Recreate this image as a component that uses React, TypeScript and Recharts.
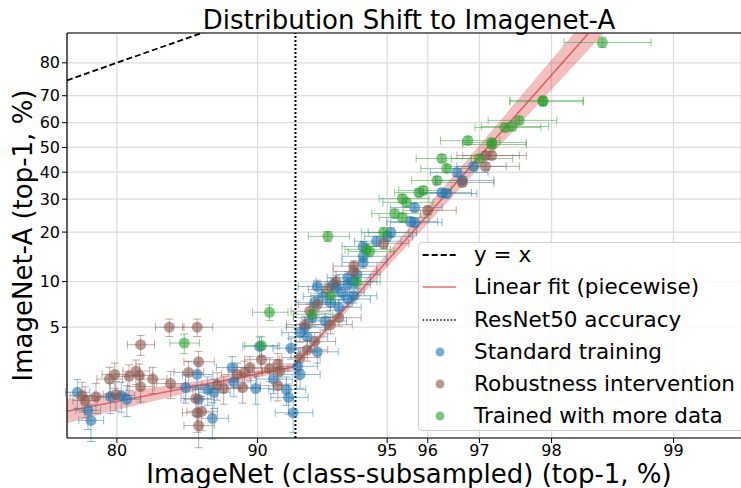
import React from 'react';
import {
  ComposedChart, Scatter, Line, Area, XAxis, YAxis, CartesianGrid, ErrorBar, ReferenceLine, Legend,
} from 'recharts';

// axis ranges (percent, logit scaled)
const X_RANGE = [75, 99.32];
const Y_RANGE = [0.85, 86.7];
const X_TICKS = [80, 90, 95, 96, 97, 98, 99];
const Y_TICKS = [5, 10, 20, 30, 40, 50, 60, 70, 80];

const RESNET50_ACC = 91.8;
const IDENTITY = [75, 90];

// piecewise linear fit (in logit space) and its confidence band
const FIT_X = [75, 91.7, 98.65];
const FIT_Y = [1.31, 2.67, 92.2];
const BAND_X = [75, 80, 86.2, 90, 91.7, 93.5, 95, 97, 98, 98.65];
const BAND_LO = [1.08, 1.34, 1.81, 2.26, 2.54, 5.6, 12.3, 41.9, 72.0, 89.8];
const BAND_HI = [1.59, 1.76, 2.12, 2.53, 2.8, 6.45, 15.0, 50.9, 80.8, 94.1];

// test set sizes used for the 95% intervals
const N_X = 4300;
const N_Y = 4000;

// [ImageNet acc, ImageNet-A acc]
const STANDARD: [number, number][] = [
  [76.1, 1.78], [77.2, 1.33], [77.5, 1.13], [79.4, 1.66], [80.4, 1.69], [80.9, 1.59],
  [85.6, 1.92], [86.4, 2.37], [86.5, 1.59], [87.4, 1.17], [87.1, 1.86], [87.5, 1.78],
  [88.6, 2.65], [88.7, 2.1], [89.9, 1.89], [90.1, 3.7], [90.8, 2.2], [91.4, 1.86],
  [91.5, 1.64], [91.6, 3.6], [91.7, 1.28], [91.9, 2.7], [92.0, 2.37], [92.0, 4.6],
  [92.3, 4.3], [92.6, 7.3], [92.7, 3.4], [92.9, 8.0], [93.2, 7.3], [93.5, 6.8],
  [93.8, 7.7], [92.5, 5.8], [93.0, 5.5], [94.0, 8.1], [92.2, 5.0], [92.7, 9.3],
  [93.3, 9.6], [93.4, 9.2], [93.6, 8.5], [93.8, 9.6], [94.0, 10.0], [93.8, 10.6],
  [94.1, 11.1], [94.3, 13.2], [94.3, 14.4], [94.3, 16.5], [94.7, 17.7], [95.0, 18.9],
  [95.1, 19.9], [95.6, 22.9], [95.7, 22.6], [95.7, 27.2], [96.3, 32.3], [96.4, 32.0],
  [96.7, 36.8], [96.6, 39.9], [96.9, 42.3],
];

const ROBUST: [number, number][] = [
  [76.6, 1.69], [76.9, 1.56], [78.0, 1.66], [79.3, 2.2], [79.8, 2.37], [79.9, 1.72],
  [81.1, 2.3], [81.7, 2.5], [82.0, 2.33], [82.1, 1.95], [82.1, 3.8], [83.1, 2.2],
  [84.5, 2.05], [84.4, 5.0], [86.4, 5.0], [85.8, 2.45], [86.5, 2.9], [86.3, 1.61],
  [86.4, 1.28], [86.7, 1.31], [86.5, 1.04], [87.7, 2.0], [88.1, 1.89], [88.9, 2.37],
  [89.2, 1.92], [89.3, 2.45], [89.6, 2.65], [90.2, 3.0], [90.6, 2.6], [91.0, 2.8],
  [91.1, 2.5], [91.0, 1.98], [92.0, 3.1], [92.2, 5.2], [92.3, 3.5], [92.6, 4.0],
  [92.7, 7.1], [93.5, 5.8], [92.4, 6.4], [93.2, 5.2], [93.1, 8.9], [93.4, 10.0],
  [94.0, 11.6], [94.0, 12.5], [94.9, 17.2], [96.0, 26.3], [96.7, 36.0], [97.1, 42.3],
  [97.1, 46.7], [97.2, 46.7],
];

const MORE_DATA: [number, number][] = [
  [85.5, 3.9], [90.2, 3.75], [90.6, 6.3], [92.5, 6.1], [93.1, 18.9], [93.2, 8.1],
  [94.1, 10.0], [94.4, 15.8], [94.5, 15.4], [94.9, 19.9], [95.2, 25.3], [95.4, 24.1],
  [95.4, 30.2], [95.5, 28.9], [95.8, 32.3], [95.9, 33.1], [96.2, 36.8], [96.4, 41.5],
  [96.3, 45.5], [97.0, 45.5], [96.8, 52.8], [97.2, 52.0], [97.2, 51.2], [97.4, 58.1],
  [97.5, 58.5], [97.6, 60.9], [97.9, 68.3], [97.9, 67.9], [98.5, 84.8],
];

const BLUE = '#1f77b4';
const BROWN = '#8c564b';
const GREEN = '#2ca02c';
const FONT = 'DejaVu Sans';

const logit = (p: number) => Math.log(p / (100 - p));
const fromLogit = (v: number) => 100 / (1 + Math.exp(-v));

// 95% binomial interval, expressed as offsets in logit space
const ci = (p: number, n: number): [number, number] => {
  const q = p / 100;
  const h = 1.96 * Math.sqrt((q * (1 - q)) / n) * 100;
  const v = logit(p);
  return [v - logit(Math.max(p - h, 0.01)), logit(Math.min(p + h, 99.99)) - v];
};

const toPoints = (rows: [number, number][]) =>
  rows.map(([x, y]) => ({ x: logit(x), y: logit(y), ex: ci(x, N_X), ey: ci(y, N_Y) }));

const fitRows = BAND_X.map((x, i) => {
  const j = FIT_X.indexOf(x);
  return {
    x: logit(x),
    band: [logit(BAND_LO[i]), logit(BAND_HI[i])],
    fit: j >= 0 ? logit(FIT_Y[j]) : null,
  };
});

const rgba = (hex: string, a: number) => {
  const n = parseInt(hex.slice(1), 16);
  return `rgba(${(n >> 16) & 255},${(n >> 8) & 255},${n & 255},${a})`;
};

const dot = (color: string) => (p: any) => (
  <circle cx={p.cx} cy={p.cy} r={5.5} fill={color} fillOpacity={0.6} />
);

const LEGEND_ITEMS = [
  { label: 'y = x', kind: 'dash' },
  { label: 'Linear fit (piecewise)', kind: 'fit' },
  { label: 'ResNet50 accuracy', kind: 'dotted' },
  { label: 'Standard training', kind: 'dot', color: BLUE },
  { label: 'Robustness intervention', kind: 'dot', color: BROWN },
  { label: 'Trained with more data', kind: 'dot', color: GREEN },
];

const LegendBox = () => (
  <div
    style={{
      width: 330, height: 189, boxSizing: 'border-box', border: '1px solid #cccccc', borderRadius: 4,
      background: 'rgba(255,255,255,0.8)', fontFamily: FONT, fontSize: 21.5, color: '#000',
    }}
  >
    <div style={{ marginTop: -4 }}>
      {LEGEND_ITEMS.map((it) => (
        <div key={it.label} style={{ height: 32.3, position: 'relative' }}>
          <svg width={50} height={32} style={{ position: 'absolute', left: 0, top: 0 }}>
            {it.kind === 'dash' && (
              <line x1={3.7} x2={37} y1={16} y2={16} stroke="#000" strokeWidth={1.8} strokeDasharray="6 3" />
            )}
            {it.kind === 'fit' && (
              <line x1={3.7} x2={37} y1={16} y2={16} stroke={rgba('#d62728', 0.5)} strokeWidth={2} />
            )}
            {it.kind === 'dotted' && (
              <line x1={3.7} x2={37} y1={16} y2={16} stroke="#000" strokeWidth={1.5} strokeDasharray="1.5 2" />
            )}
            {it.kind === 'dot' && <circle cx={21} cy={16} r={4.5} fill={it.color} fillOpacity={0.6} />}
          </svg>
          <span style={{ position: 'absolute', left: 55, top: 0, lineHeight: '32.3px', whiteSpace: 'nowrap' }}>
            {it.label}
          </span>
        </div>
      ))}
    </div>
  </div>
);

const SERIES = [
  { name: 'Standard training', rows: STANDARD, color: BLUE },
  { name: 'Robustness intervention', rows: ROBUST, color: BROWN },
  { name: 'Trained with more data', rows: MORE_DATA, color: GREEN },
];

export default function App() {
  const tickStyle = { fill: '#000', fontSize: 16, fontFamily: FONT };
  const fmt = (v: number) => String(Math.round(fromLogit(v)));

  return (
    <div style={{ position: 'fixed', left: 0, top: 0, width: 741, height: 488, overflow: 'hidden', background: '#fff' }}>
      <ComposedChart width={741} height={488} data={fitRows} margin={{ top: 33, right: 0, bottom: 0, left: 0 }}>
        <CartesianGrid stroke="#dcdcdc" strokeWidth={1.3} />
        <XAxis
          type="number"
          dataKey="x"
          domain={X_RANGE.map(logit)}
          allowDataOverflow
          ticks={X_TICKS.map(logit)}
          interval={0}
          tickFormatter={fmt}
          tick={tickStyle}
          tickSize={5}
          height={50}
          axisLine={{ stroke: '#000', strokeWidth: 1.2 }}
          tickLine={{ stroke: '#000' }}
        />
        <YAxis
          type="number"
          domain={Y_RANGE.map(logit)}
          allowDataOverflow
          ticks={Y_TICKS.map(logit)}
          interval={0}
          tickFormatter={fmt}
          tick={tickStyle}
          tickSize={5}
          width={67}
          axisLine={{ stroke: '#000', strokeWidth: 1.2 }}
          tickLine={{ stroke: '#000' }}
        />
        <ReferenceLine y={logit(Y_RANGE[1])} stroke="#000" strokeWidth={1.2} />
        <Area
          dataKey="band"
          stroke="none"
          fill="#d62728"
          fillOpacity={0.3}
          connectNulls
          isAnimationActive={false}
        />
        <Line
          dataKey="fit"
          stroke="#d62728"
          strokeOpacity={0.6}
          strokeWidth={1.6}
          dot={false}
          activeDot={false}
          connectNulls
          isAnimationActive={false}
        />
        <ReferenceLine
          segment={IDENTITY.map((v) => ({ x: logit(v), y: logit(v) }))}
          ifOverflow="hidden"
          stroke="#000"
          strokeWidth={1.8}
          strokeDasharray="6 3"
        />
        <ReferenceLine x={logit(RESNET50_ACC)} stroke="#000" strokeWidth={2} strokeDasharray="2 2" />
        {SERIES.map((s) => (
          <Scatter
            key={s.name}
            name={s.name}
            data={toPoints(s.rows)}
            dataKey="y"
            shape={dot(s.color)}
            isAnimationActive={false}
          >
            <ErrorBar dataKey="ex" direction="x" width={4} stroke={rgba(s.color, 0.5)} strokeWidth={1} />
            <ErrorBar dataKey="ey" direction="y" width={4} stroke={rgba(s.color, 0.5)} strokeWidth={1} />
          </Scatter>
        ))}
        <Legend
          content={() => <LegendBox />}
          verticalAlign="middle"
          layout="horizontal"
          wrapperStyle={{ left: 418, top: 242, width: 330, height: 189 }}
        />
      </ComposedChart>
      <svg
        width={741}
        height={488}
        style={{ position: 'absolute', left: 0, top: 0, pointerEvents: 'none' }}
        fontFamily={FONT}
      >
        <text x={409} y={28.5} textAnchor="middle" fontSize={26} fill="#000">
          Distribution Shift to Imagenet-A
        </text>
        <text x={409} y={483} textAnchor="middle" fontSize={26} fill="#000">
          ImageNet (class-subsampled) (top-1, %)
        </text>
        <text x={32} y={235.5} textAnchor="middle" fontSize={26} fill="#000" transform="rotate(-90, 32, 235.5)">
          ImageNet-A (top-1, %)
        </text>
      </svg>
    </div>
  );
}
